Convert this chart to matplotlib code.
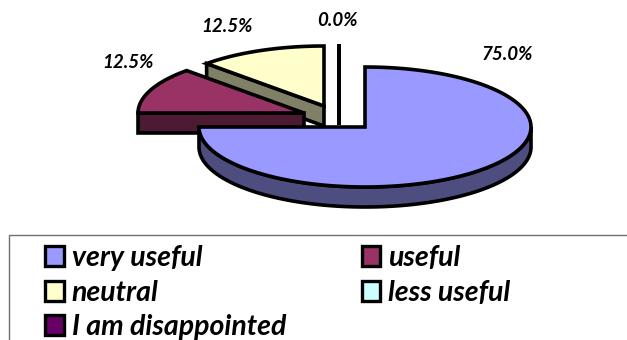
import matplotlib.pyplot as plt
import numpy as np
from matplotlib.patches import Patch, Polygon, Rectangle

plt.rcParams["font.family"] = ["Lato", "DejaVu Sans"]

categories = ["very useful", "useful", "neutral", "less useful", "I am disappointed"]
shares = [75.0, 12.5, 12.5, 0.0, 0.0]
pct_labels = ["75.0%", "12.5%", "12.5%", "0.0%", None]

top_colors = ["#9999ff", "#993366", "#ffffcc", "#ccffff", "#660066"]
side_colors = ["#4d4d80", "#4d1a33", "#808066", "#668080", "#330033"]

# layout, in canvas pixels
RX, RY, DEPTH = 166, 60, 20
CENTERS = [(365, 127), (304, 113), (324, 106), (339, 106), (339, 106)]
LABEL_POS = [(507, 54), (128, 63), (227, 27), (337, 21), None]
DRAW_ORDER = [4, 3, 2, 1, 0]


def rim(cx, cy, start, stop, n=160):
    # clockwise from 12 o'clock, degrees of the pie
    t = np.radians(np.linspace(start, stop, n))
    return np.column_stack([cx + RX * np.sin(t), cy - RY * np.cos(t)])


def draw_slice(ax, center, start, stop, top, side):
    cx, cy = center
    edge = {"edgecolor": "black", "linewidth": 2.6, "joinstyle": "miter"}
    arc = rim(cx, cy, start, stop)
    if stop == start:
        # an empty slice only shows as one thick radial line
        ax.plot([cx, cx], [cy - RY - 2, cy + DEPTH - 1], color="black", lw=2.8,
                solid_capstyle="butt")
        return
    # front rim wall, only where the rim faces down
    lo, hi = max(start, 90), min(stop, 270)
    if hi > lo:
        wall = rim(cx, cy, lo, hi)
        pts = np.vstack([wall, (wall + [0, DEPTH])[::-1]])
        ax.add_patch(Polygon(pts, closed=True, facecolor=side, **edge))
    # leading cut face, visible on the left half of the pie only
    if start > 180:
        p = rim(cx, cy, start, start, 1)[0]
        face = [(cx, cy), tuple(p), (p[0], p[1] + DEPTH), (cx, cy + DEPTH)]
        ax.add_patch(Polygon(face, closed=True, facecolor=side, **edge))
    ax.add_patch(Polygon(np.vstack([[cx, cy], arc]), closed=True, facecolor=top, **edge))


fig = plt.figure(figsize=(6.27, 3.40), dpi=100)
ax = fig.add_axes([0, 0, 1, 1])
ax.set_xlim(0, 627)
ax.set_ylim(340, 0)
ax.axis("off")

stops = np.cumsum(shares) * 3.6
starts = np.concatenate([[0], stops[:-1]])
for i in DRAW_ORDER:
    draw_slice(ax, CENTERS[i], starts[i], stops[i], top_colors[i], side_colors[i])

for txt, pos in zip(pct_labels, LABEL_POS):
    if txt:
        ax.text(pos[0], pos[1], txt, ha="center", va="center", fontsize=13.5,
                fontweight="bold", fontstyle="italic")

# legend box runs off the right and bottom of the canvas
ax.add_patch(Rectangle((9, 235), 700, 200, facecolor="white", edgecolor="#707070",
                       linewidth=1.0))

order = [0, 2, 4, 1, 3]
handles = [Patch(facecolor=top_colors[i], edgecolor="black", linewidth=2.4) for i in order]
labels = [categories[i] for i in order]
ax.legend(handles, labels, ncol=2, frameon=False, loc="upper left",
          bbox_to_anchor=(45 / 627, 1 - 245 / 340), borderaxespad=0, borderpad=0,
          prop={"size": 20.5, "weight": "bold", "style": "italic"},
          handlelength=0.65, handleheight=0.7, handletextpad=0.29,
          labelspacing=0.3, columnspacing=2.65)

fig.savefig("out.png", dpi=100)
